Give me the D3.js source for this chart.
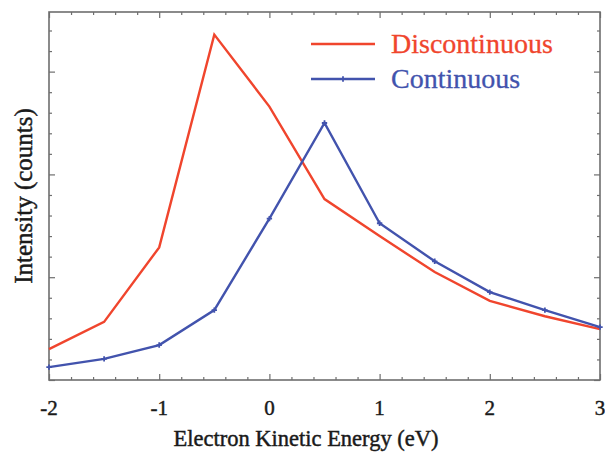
<!DOCTYPE html>
<html lang="en">
<head>
    <meta charset="UTF-8">
    <script src="https://cdn.jsdelivr.net/npm/d3@7"></script>
    <title>Electron Kinetic Energy</title>
    <style>
        body { margin: 0; background: white; }
        text { font-family: 'Liberation Serif', 'Times New Roman', serif; fill: #1a1a1a; }
        .lab { stroke: #1a1a1a; stroke-width: 0.45px; }
        .frame { fill: none; stroke: #6e6e6e; stroke-width: 1.6px; }
        .tick line { stroke: #6e6e6e; stroke-width: 1.2px; }
    </style>
</head>
<body>
<div class="fig"></div>
<script>
    // data (y in arbitrary counts)
    const energies = [-2, -1.5, -1, -0.5, 0, 0.5, 1, 1.5, 2, 2.5, 3];
    const discontinuous = [300, 565, 1290, 3360, 2660, 1760, 1400, 1050, 770, 620, 495];
    const continuous = [125, 205, 340, 680, 1570, 2500, 1525, 1155, 855, 680, 515];
    const xTickLabels = ["-2", "-1", "0", "1", "2", "3"];
    const seriesNames = ["Discontinuous", "Continuous"];
    const seriesColors = ["#f0452d", "#4253ad"];

    const width = 605, height = 454;
    const margin = {top: 12, right: 5, bottom: 74, left: 49};

    const svg = d3.select(".fig").append("svg")
        .attr("width", width)
        .attr("height", height);

    const x = d3.scaleLinear().domain([-2, 3]).range([margin.left, width - margin.right]);
    const y = d3.scaleLinear().domain([0, 3580]).range([height - margin.bottom, margin.top]);

    const xMinor = d3.range(-2, 3.0001, 0.2).map(v => +v.toFixed(1));
    const yMinor = d3.range(0, 3580, 200);
    const isMajorX = v => Math.abs(v - Math.round(v)) < 1e-6;
    const isMajorY = v => v % 1000 === 0;

    // inward ticks on all four sides
    const axBottom = svg.append("g").attr("transform", `translate(0,${y(0)})`)
        .call(d3.axisBottom(x).tickValues(xMinor).tickFormat("").tickSizeOuter(0));
    axBottom.selectAll(".tick line").attr("y2", d => isMajorX(d) ? -6 : -3);

    const axTop = svg.append("g").attr("transform", `translate(0,${margin.top})`)
        .call(d3.axisTop(x).tickValues(xMinor).tickFormat("").tickSizeOuter(0));
    axTop.selectAll(".tick line").attr("y2", d => isMajorX(d) ? 6 : 3);

    const axLeft = svg.append("g").attr("transform", `translate(${margin.left},0)`)
        .call(d3.axisLeft(y).tickValues(yMinor).tickFormat("").tickSizeOuter(0));
    axLeft.selectAll(".tick line").attr("x2", d => isMajorY(d) ? 6 : 3);

    const axRight = svg.append("g").attr("transform", `translate(${width - margin.right},0)`)
        .call(d3.axisRight(y).tickValues(yMinor).tickFormat("").tickSizeOuter(0));
    axRight.selectAll(".tick line").attr("x2", d => isMajorY(d) ? -6 : -3);

    svg.selectAll(".domain").remove();

    svg.append("rect").attr("class", "frame")
        .attr("x", margin.left).attr("y", margin.top)
        .attr("width", width - margin.left - margin.right)
        .attr("height", height - margin.top - margin.bottom);

    // x tick labels
    svg.selectAll(".xlab")
        .data(xTickLabels)
        .enter()
        .append("text")
        .attr("class", "xlab lab")
        .attr("x", d => x(+d))
        .attr("y", 415)
        .attr("text-anchor", "middle")
        .style("font-size", "21px")
        .text(d => d);

    svg.append("text")
        .attr("class", "lab")
        .attr("x", 306)
        .attr("y", 446)
        .attr("text-anchor", "middle")
        .style("font-size", "22.5px")
        .text("Electron Kinetic Energy (eV)");

    svg.append("text")
        .attr("class", "lab")
        .attr("transform", `translate(32,196) rotate(-90)`)
        .attr("text-anchor", "middle")
        .style("font-size", "25px")
        .text("Intensity (counts)");

    // lines
    const line = d3.line().x((d, i) => x(energies[i])).y(d => y(d));

    svg.append("path")
        .datum(discontinuous)
        .attr("d", line)
        .attr("fill", "none")
        .attr("stroke", seriesColors[0])
        .attr("stroke-width", 2.4);

    svg.append("path")
        .datum(continuous)
        .attr("d", line)
        .attr("fill", "none")
        .attr("stroke", seriesColors[1])
        .attr("stroke-width", 2.4);

    // small plus markers on the continuous series
    const plus = d3.symbol().type(d3.symbolCross).size(16);
    svg.selectAll(".mk")
        .data(continuous)
        .enter()
        .append("path")
        .attr("class", "mk")
        .attr("d", plus)
        .attr("transform", (d, i) => `translate(${x(energies[i])},${y(d)})`)
        .attr("fill", seriesColors[1]);

    // legend
    const legend = svg.append("g");
    seriesNames.forEach((name, i) => {
        const ly = 44 + i * 35;
        legend.append("line")
            .attr("x1", 311).attr("x2", 375)
            .attr("y1", ly).attr("y2", ly)
            .attr("stroke", seriesColors[i])
            .attr("stroke-width", 2.4);
        if (i === 1) {
            legend.append("path").attr("d", plus)
                .attr("transform", `translate(343,${ly})`)
                .attr("fill", seriesColors[i]);
        }
        legend.append("text")
            .attr("x", 391)
            .attr("y", ly + 9)
            .style("font-size", "28px")
            .style("fill", seriesColors[i])
            .style("stroke", seriesColors[i])
            .style("stroke-width", "0.3px")
            .text(name);
    });
</script>
</body>
</html>
